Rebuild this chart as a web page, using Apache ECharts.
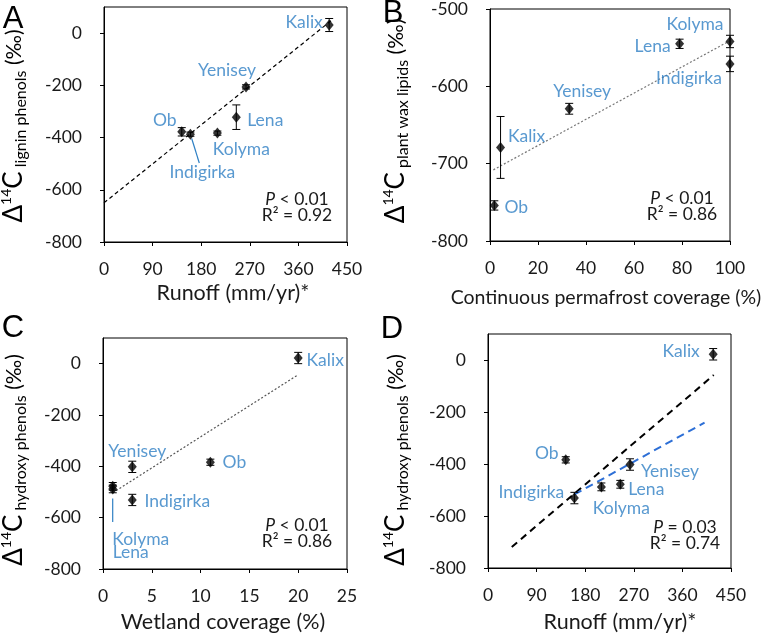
<!DOCTYPE html>
<html>
<head>
<meta charset="utf-8">
<script src="https://cdn.jsdelivr.net/npm/echarts@6.0.0/dist/echarts.min.js"></script>
<style>
  html, body { margin: 0; padding: 0; background: #fff; }
  #main { width: 765px; height: 637px; }
</style>
</head>
<body>
<div id="main"></div>
<script>
// rivers, same order in every array below
var rivers = ['Kalix', 'Yenisey', 'Lena', 'Kolyma', 'Indigirka', 'Ob'];

// x values
var runoff = [417, 263, 245, 210, 160, 144];           // mm/yr
var permafrost = [4.4, 33, 79, 100, 100, 1.8];         // %
var wetland = [20, 3, 1, 1, 3, 11];                    // %

// Δ14C values and error bars
var ligninD14C = [31, -206, -322, -383, -387, -378];
var ligninErr = [25, 8, 47, 8, 8, 16];
var waxD14C = [-679, -629, -545, -542, -571, -754];
var waxErr = [40, 7, 6, 8, 10, 6];
var hydroxyD14C = [22, -402, -478, -488, -531, -384];
var hydroxyErr = [22, 22, 15, 15, 22, 12];

// regression lines (end points)
var trendA = [[0, -650], [422, 50]];
var trendB = [[1.4, -708], [100, -541]];
var trendC = [[1, -503], [20, -43]];
var trendD = [[44, -719], [418, -58]];
var trendDblue = [[160, -517], [401, -241]];

// stats text
var statsA = ['< 0.01', '0.92'];
var statsB = ['< 0.01', '0.86'];
var statsC = ['< 0.01', '0.86'];
var statsD = ['= 0.03', '0.74'];

// axis ticks: min, max, interval
var xTicksRunoff = [0, 450, 90];
var xTicksPerma = [0, 100, 20];
var xTicksWet = [0, 25, 5];
var yTicksPhenol = [-800, 100, 200];
var yTicksWax = [-800, -500, 100];

var BLUE = '#2f80c4';
var FONT = 'Lato';

// label offsets (px, from point to label centre)
var offA = [[-25, -3], [-19, -17], [29, 3], [24, 16], [12, 38], [-17, -11]];
var offB = [[26, -11], [13, -17], [-27, 3], [-35, -17], [-41, 14], [22, 2]];
var offC = [[27, 2], [5, -15], [18, 66], [28, 50], [45, 1], [24, 0]];
var offD = [[-32, -3], [40, 7], [26, 5], [20, 21], [-43, -6], [-19, -6]];

var chart = echarts.init(document.getElementById('main'));

function xAxisOf(idx, t) {
    return {
        type: 'value', gridIndex: idx, min: t[0], max: t[1], interval: t[2],
        axisLine: { show: true, onZero: false, lineStyle: { color: '#000', width: 1 } },
        axisTick: { show: true, length: 4, lineStyle: { color: '#000' } },
        splitLine: { show: false },
        axisLabel: { color: '#1a1a1a', fontSize: 17.5, fontFamily: FONT, margin: 18 }
    };
}
function yAxisOf(idx, t) {
    return {
        type: 'value', gridIndex: idx, min: t[0], max: t[1], interval: t[2],
        axisLine: { show: true, onZero: false, lineStyle: { color: '#000', width: 1 } },
        axisTick: { show: true, length: 4, lineStyle: { color: '#000' } },
        splitLine: { show: false },
        axisLabel: { color: '#1a1a1a', fontSize: 17.5, fontFamily: FONT, margin: 22, showMaxLabel: t[1] % t[2] === 0 }
    };
}

function errRender(params, api) {
    var x = api.value(0), y = api.value(1), e = api.value(2);
    var top = api.coord([x, y + e]), bot = api.coord([x, y - e]);
    var w = 4, st = { stroke: '#000', lineWidth: 1 };
    return {
        type: 'group',
        children: [
            { type: 'line', shape: { x1: top[0], y1: top[1], x2: bot[0], y2: bot[1] }, style: st },
            { type: 'line', shape: { x1: top[0] - w, y1: top[1], x2: top[0] + w, y2: top[1] }, style: st },
            { type: 'line', shape: { x1: bot[0] - w, y1: bot[1], x2: bot[0] + w, y2: bot[1] }, style: st }
        ]
    };
}

// 一个子图的所有系列
function panelSeries(idx, xs, ys, errs, offs) {
    var pts = [], eb = [];
    for (var i = 0; i < rivers.length; i++) {
        pts.push({
            name: rivers[i], value: [xs[i], ys[i]],
            label: { offset: offs[i] }
        });
        eb.push([xs[i], ys[i], errs[i]]);
    }
    return [
        {
            type: 'custom', xAxisIndex: idx, yAxisIndex: idx, z: 3, silent: true,
            renderItem: errRender, data: eb, encode: { x: 0, y: 1 }
        },
        {
            type: 'scatter', xAxisIndex: idx, yAxisIndex: idx, z: 4, silent: true,
            symbol: 'diamond', symbolSize: [9, 11],
            itemStyle: { color: '#000' },
            label: {
                show: true, position: 'inside', formatter: '{b}',
                color: BLUE, fontSize: 17.5, fontFamily: FONT
            },
            data: pts
        }
    ];
}

function trendSeries(idx, pts, color, width, dash) {
    return {
        type: 'line', xAxisIndex: idx, yAxisIndex: idx, z: 2, silent: true,
        symbol: 'none', data: pts,
        lineStyle: { color: color, width: width, type: dash }
    };
}

function yTitle(x, y, sub) {
    return {
        type: 'text', x: x, y: y, rotation: Math.PI / 2,
        style: {
            text: '{big|Δ}{sup|14}{big|C}{sub| ' + sub + '}{par| (‰)}',
            align: 'center', verticalAlign: 'middle', fill: '#000',
            rich: {
                big: { fontSize: 26, fontFamily: FONT, lineHeight: 30, verticalAlign: 'middle' },
                sup: { fontSize: 14, fontFamily: FONT, lineHeight: 30, verticalAlign: 'top' },
                sub: { fontSize: 16, fontFamily: FONT, lineHeight: 30, verticalAlign: 'bottom' },
                par: { fontSize: 21, fontFamily: FONT, lineHeight: 30, verticalAlign: 'middle' }
            }
        }
    };
}

function xTitle(x, y, text, size) {
    return {
        type: 'text', x: x, y: y,
        style: { text: text, align: 'center', verticalAlign: 'middle', fill: '#1a1a1a', fontSize: size, fontFamily: FONT }
    };
}

function stats(x, y1, y2, s) {
    return [
        {
            type: 'text', x: x, y: y1,
            style: {
                text: '{i|P} ' + s[0], align: 'center', verticalAlign: 'middle', fill: '#1a1a1a',
                fontSize: 17.5, fontFamily: FONT, rich: { i: { fontStyle: 'italic', fontSize: 17.5, fontFamily: FONT } }
            }
        },
        {
            type: 'text', x: x, y: y2,
            style: { text: 'R² = ' + s[1], align: 'center', verticalAlign: 'middle', fill: '#1a1a1a', fontSize: 17.5, fontFamily: FONT }
        }
    ];
}

function letter(x, y, t) {
    return {
        type: 'text', x: x, y: y,
        style: { text: t, align: 'center', verticalAlign: 'middle', fill: '#000', fontSize: 31, fontFamily: 'Liberation Sans' }
    };
}

var gridBox = { show: true, borderColor: '#000', borderWidth: 1 };

var option = {
    animation: false,
    grid: [
        Object.assign({ left: 104, top: 7, width: 243, height: 235 }, gridBox),
        Object.assign({ left: 490, top: 8, width: 240, height: 233 }, gridBox),
        Object.assign({ left: 103, top: 338, width: 244, height: 231 }, gridBox),
        Object.assign({ left: 488, top: 334, width: 243, height: 234 }, gridBox)
    ],
    xAxis: [
        xAxisOf(0, xTicksRunoff), xAxisOf(1, xTicksPerma), xAxisOf(2, xTicksWet), xAxisOf(3, xTicksRunoff)
    ],
    yAxis: [
        yAxisOf(0, yTicksPhenol), yAxisOf(1, yTicksWax), yAxisOf(2, yTicksPhenol), yAxisOf(3, yTicksPhenol)
    ],
    series: [].concat(
        panelSeries(0, runoff, ligninD14C, ligninErr, offA),
        [trendSeries(0, trendA, '#000', 1.2, [4, 3])],
        panelSeries(1, permafrost, waxD14C, waxErr, offB),
        [trendSeries(1, trendB, '#777', 1.2, [2, 2])],
        panelSeries(2, wetland, hydroxyD14C, hydroxyErr, offC),
        [trendSeries(2, trendC, '#555', 1.2, [2, 2])],
        panelSeries(3, runoff, hydroxyD14C, hydroxyErr, offD),
        [trendSeries(3, trendD, '#000', 2, [7, 5]), trendSeries(3, trendDblue, '#2d6fd6', 2, [8, 5])]
    ),
    graphic: [
        letter(13, 19, 'A'), letter(393, 13, 'B'), letter(13, 328, 'C'), letter(392, 329, 'D'),
        yTitle(14, 126, 'lignin phenols'),
        yTitle(396, 121, 'plant wax lipids'),
        yTitle(14, 460, 'hydroxy phenols'),
        yTitle(396, 460, 'hydroxy phenols'),
        xTitle(233, 293, 'Runoff (mm/yr)*', 21.5),
        xTitle(606, 298, 'Continuous permafrost coverage (%)', 19.5),
        xTitle(223, 622, 'Wetland coverage (%)', 21.5),
        xTitle(620, 622, 'Runoff (mm/yr)*', 21.5),
        // leader lines
        { type: 'line', shape: { x1: 191.7, y1: 138.5, x2: 199.3, y2: 163 }, style: { stroke: BLUE, lineWidth: 1.2 } },
        { type: 'line', shape: { x1: 112.7, y1: 498.5, x2: 112.7, y2: 522 }, style: { stroke: BLUE, lineWidth: 1.2 } }
    ].concat(
        stats(297, 199, 215, statsA),
        stats(682, 198, 214, statsB),
        stats(297, 525, 541, statsC),
        stats(685, 527, 543, statsD)
    )
};

chart.setOption(option);
</script>
</body>
</html>
